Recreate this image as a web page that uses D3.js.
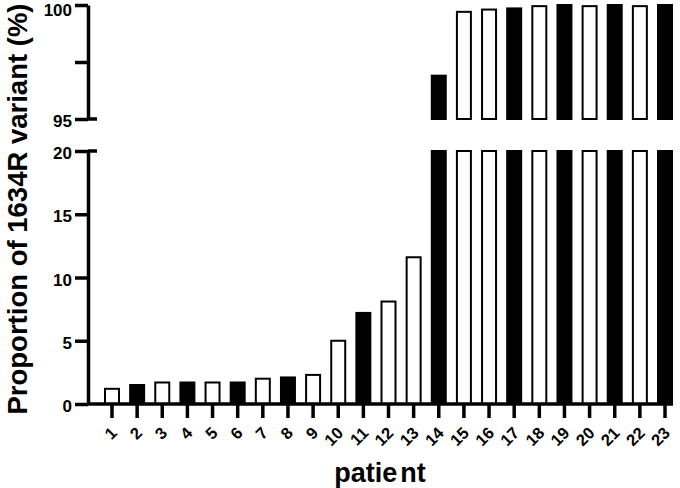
<!DOCTYPE html>
<html>
<head>
<meta charset="utf-8">
<script src="https://cdn.jsdelivr.net/npm/d3@7"></script>
<style>
  body { margin: 0; background: #fff; }
  svg text { font-family: "Liberation Sans", Arial, sans-serif; font-weight: bold; fill: #000; }
</style>
</head>
<body>
<div id="chart"></div>
<script>
// patients and proportion of 1634R variant (%)
const patients = d3.range(1, 24).map(String);
const proportion = [1.2, 1.5, 1.7, 1.7, 1.7, 1.7, 2.0, 2.1, 2.3, 5.0, 7.2, 8.1, 11.6,
  96.9, 99.7, 99.8, 99.85, 99.95, 100, 99.95, 100, 99.95, 100];
const filled = [2, 4, 6, 8, 11, 14, 17, 19, 21, 23];
const lowerTicks = [0, 5, 10, 15, 20];
const upperTicks = [95, 97.5, 100];
const upperLabels = [95, 100];

const width = 680, height = 488;
const axisX = 88;

const svg = d3.select("#chart").append("svg")
  .attr("width", width)
  .attr("height", height);

// x: one band per patient
const x = d3.scaleBand()
  .domain(patients)
  .range([104, 673])
  .paddingInner(0.364)
  .paddingOuter(0);

// y: broken axis, lower 0-20, upper 95-100
const yLow = d3.scaleLinear().domain([0, 20]).range([404, 151]);
const yHigh = d3.scaleLinear().domain([95, 100]).range([119, 5]);

const data = patients.map((p, i) => ({
  patient: p,
  value: proportion[i],
  filled: filled.includes(+p)
}));

// bars, lower segment (clipped at 20)
svg.append("g").selectAll("rect")
  .data(data)
  .join("rect")
  .attr("x", d => x(d.patient) + 1)
  .attr("width", x.bandwidth() - 2)
  .attr("y", d => yLow(Math.min(d.value, 20)))
  .attr("height", d => yLow(0) - yLow(Math.min(d.value, 20)))
  .attr("fill", d => d.filled ? "#000" : "#fff")
  .attr("stroke", "#000")
  .attr("stroke-width", 2);

// bars, upper segment
svg.append("g").selectAll("rect")
  .data(data.filter(d => d.value > 95))
  .join("rect")
  .attr("x", d => x(d.patient) + 1)
  .attr("width", x.bandwidth() - 2)
  .attr("y", d => yHigh(d.value))
  .attr("height", d => yHigh(95) - yHigh(d.value))
  .attr("fill", d => d.filled ? "#000" : "#fff")
  .attr("stroke", "#000")
  .attr("stroke-width", 2);

function styleAxis(g) {
  g.attr("font-size", null).attr("font-family", null);
  g.selectAll(".domain").attr("stroke-width", 3.5).attr("stroke", "#000");
  g.selectAll(".tick line").attr("stroke-width", 3.5).attr("stroke", "#000");
  g.selectAll("text").attr("fill", "#000");
}

// lower y axis
svg.append("g")
  .attr("transform", `translate(${axisX},0)`)
  .call(d3.axisLeft(yLow).tickValues(lowerTicks).tickSize(13).tickSizeOuter(0).tickPadding(3))
  .call(styleAxis)
  .call(g => g.selectAll("text").style("font-size", "17px").attr("dy", "0.45em"));

// upper y axis
svg.append("g")
  .attr("transform", `translate(${axisX},0)`)
  .call(d3.axisLeft(yHigh).tickValues(upperTicks).tickSize(13).tickSizeOuter(0).tickPadding(3)
    .tickFormat(d => upperLabels.includes(d) ? d : ""))
  .call(styleAxis)
  .call(g => g.selectAll("text").style("font-size", "17px")
    .attr("dy", d => d === 100 ? "0.6em" : "0.45em"));

// break marks: ticks at 95 and 20 also reach right of the axis
svg.append("g").selectAll("line")
  .data([yHigh(95), yLow(20)])
  .join("line")
  .attr("x1", axisX)
  .attr("x2", axisX + 9)
  .attr("y1", d => d)
  .attr("y2", d => d)
  .attr("stroke", "#000")
  .attr("stroke-width", 3.5);

// x axis
svg.append("g")
  .attr("transform", `translate(0,${yLow(0)})`)
  .call(d3.axisBottom(x).tickSize(14).tickSizeOuter(0).tickPadding(0))
  .call(styleAxis)
  .call(g => g.select(".domain").attr("d", `M${axisX},0H673`))
  .call(g => g.selectAll(".tick text")
    .style("font-size", "16.5px")
    .attr("text-anchor", "end")
    .attr("dy", "0.35em")
    .attr("transform", "translate(2,26) rotate(-45)")
    .attr("y", 0));

// axis titles
svg.append("text")
  .attr("transform", "rotate(-90)")
  .attr("x", -209)
  .attr("y", 27)
  .attr("text-anchor", "middle")
  .style("font-size", "27.5px")
  .text("Proportion of 1634R variant (%)");

const xTitle = svg.append("text")
  .attr("x", 380)
  .attr("y", 482)
  .attr("text-anchor", "middle")
  .style("font-size", "27px");
xTitle.append("tspan").text("patie");
xTitle.append("tspan").attr("dx", 3).text("nt");
</script>
</body>
</html>
